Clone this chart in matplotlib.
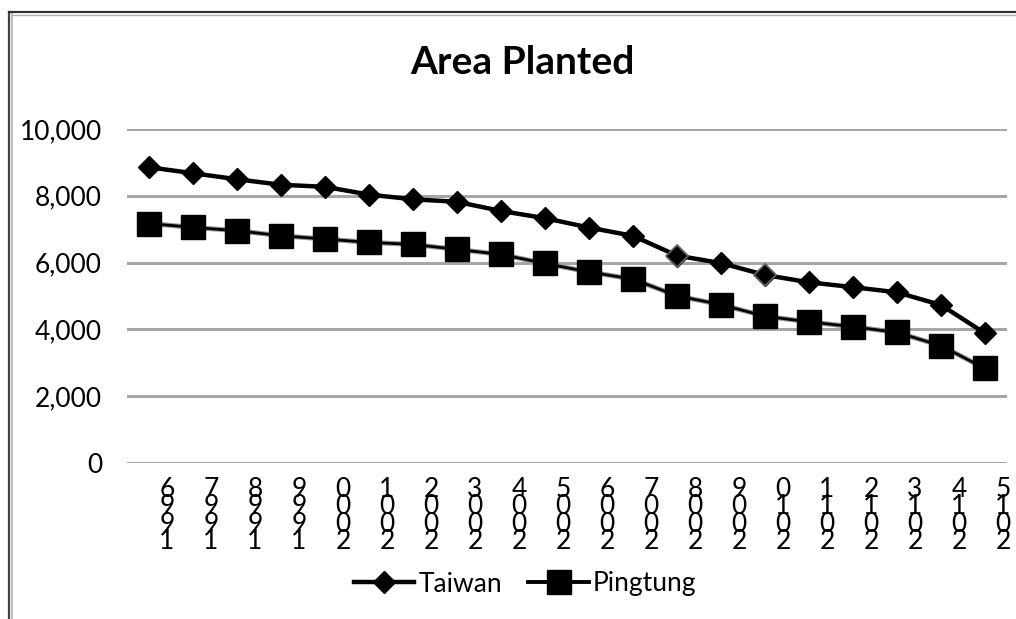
import matplotlib
matplotlib.use("Agg")
import matplotlib.pyplot as plt
import matplotlib.transforms as mtransforms
from matplotlib.lines import Line2D

years = ["1996", "1997", "1998", "1999", "2000", "2001", "2002", "2003", "2004", "2005",
         "2006", "2007", "2008", "2009", "2010", "2011", "2012", "2013", "2014", "2015"]
taiwan = [8855, 8675, 8495, 8330, 8270, 8035, 7895, 7820, 7545, 7330,
          7050, 6800, 6210, 5985, 5630, 5410, 5265, 5110, 4730, 3885]
pingtung = [7170, 7055, 6955, 6805, 6705, 6605, 6545, 6395, 6245, 5975,
            5720, 5505, 5005, 4740, 4395, 4225, 4080, 3910, 3510, 2830]
yticks = [0, 2000, 4000, 6000, 8000, 10000]
title = "Area Planted"

plt.rcParams['font.family'] = ['Lato', 'DejaVu Sans']

W, H = 1016, 619
fig = plt.figure(figsize=(W / 100, H / 100), dpi=100)
ax = fig.add_axes([127 / W, 1 - 463 / H, 880 / W, (463 - 129) / H])

x = list(range(len(years)))
ax.plot(x, pingtung, color='#9a9a9a', lw=3.6, zorder=2, solid_capstyle='round')
ax.plot(x, pingtung, color='black', lw=2.0, marker='s', markersize=17,
        markerfacecolor='black', markeredgecolor='black', zorder=3, label='Pingtung')
ax.plot(x, taiwan, color='black', lw=3.2, marker='D', markersize=11.5,
        markerfacecolor='black', markeredgecolor='black', zorder=4, label='Taiwan')
ax.plot(x, taiwan, lw=0, marker='D', markersize=11.5, markevery=[12, 14],
        markerfacecolor='black', markeredgecolor='#666666', markeredgewidth=1.2, zorder=5)

ax.set_xlim(-0.5, len(years) - 0.5)
ax.set_ylim(0, 10000)
ax.set_yticks(yticks)
ax.set_yticklabels([f"{v:,}" for v in yticks], fontsize=19)
ax.grid(axis='y', color='#a6a6a6', lw=2.2)
ax.set_axisbelow(True)
for s in ax.spines.values():
    s.set_visible(False)
ax.tick_params(axis='both', length=0)
ax.tick_params(axis='y', pad=18)

ax.set_xticks(x)
ax.set_xticklabels(["\n".join(reversed(y)) for y in years], fontsize=19,
                   linespacing=0.62, va='top')
ax.tick_params(axis='x', pad=10)
offset = mtransforms.ScaledTranslation(18 / 100, 0, fig.dpi_scale_trans)
for lab in ax.get_xticklabels():
    lab.set_transform(lab.get_transform() + offset)

fig.text(522 / W, 1 - 63 / H, title, ha='center', va='center', fontsize=28,
         fontweight='bold')

handles = [Line2D([], [], color='black', lw=3.2, marker='D', markersize=11.5),
           Line2D([], [], color='black', lw=2.8, marker='s', markersize=17)]
fig.legend(handles, ['Taiwan', 'Pingtung'], loc='center', bbox_to_anchor=(525 / W, 1 - 584 / H),
           ncol=2, frameon=False, fontsize=19, handlelength=2.3, handletextpad=0.15,
           columnspacing=1.0)

# chart frame
fig.add_artist(Line2D([9 / W, 9 / W], [0, 1 - 12 / H], color='#404040', lw=1.6,
                      transform=fig.transFigure))
fig.add_artist(Line2D([12 / W, 12 / W], [0, 1 - 14 / H], color='#b0b0b0', lw=1.2,
                      transform=fig.transFigure))
fig.add_artist(Line2D([9 / W, 1], [1 - 12 / H, 1 - 12 / H], color='#303030', lw=1.6,
                      transform=fig.transFigure))
fig.add_artist(Line2D([12 / W, 1], [1 - 14.5 / H, 1 - 14.5 / H], color='#b0b0b0', lw=1.0,
                      transform=fig.transFigure))

fig.savefig("out.png", dpi=100)
